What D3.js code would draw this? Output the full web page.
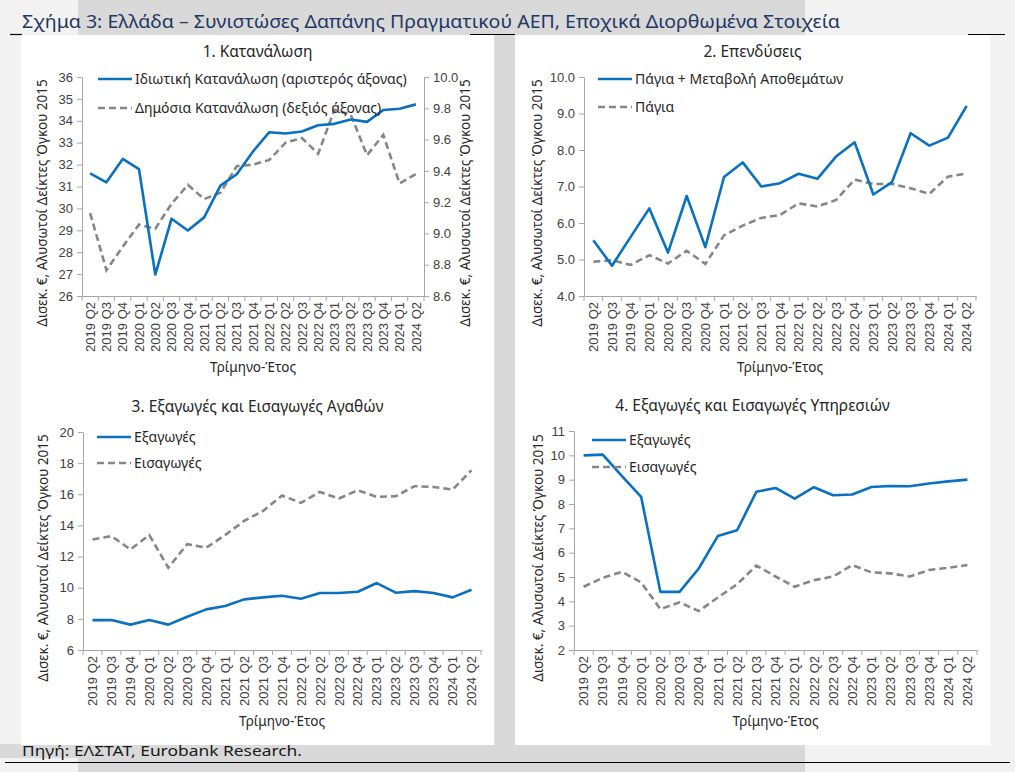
<!DOCTYPE html>
<html>
<head>
<meta charset="utf-8">
<script src="https://cdn.jsdelivr.net/npm/d3@7"></script>
<style>
  body { margin: 0; background: #f2f2f2; }
  svg { display: block; font-family: "Noto Sans", "DejaVu Sans", sans-serif; }
  .tick text { fill: #404040; font-size: 13px; }
  .domain, .tick line { stroke: #a6a6a6; }
</style>
<title>Σχήμα 3</title>
</head>
<body>
<svg id="chart" width="1015" height="772"></svg>
<script>
// ---- data ----
var quarters = ["2019 Q2","2019 Q3","2019 Q4","2020 Q1","2020 Q2","2020 Q3","2020 Q4",
                "2021 Q1","2021 Q2","2021 Q3","2021 Q4","2022 Q1","2022 Q2","2022 Q3",
                "2022 Q4","2023 Q1","2023 Q2","2023 Q3","2023 Q4","2024 Q1","2024 Q2"];

var privateCons = [31.60,31.19,32.26,31.79,26.98,29.53,28.99,29.59,31.04,31.56,32.60,
                   33.48,33.42,33.51,33.80,33.86,34.06,33.95,34.49,34.55,34.75];
var publicCons  = [9.13,8.765,8.915,9.057,9.03,9.19,9.31,9.22,9.26,9.43,9.44,
                   9.47,9.58,9.61,9.51,9.79,9.76,9.50,9.63,9.32,9.38];

var invTotal = [5.53,4.83,5.62,6.40,5.19,6.74,5.34,7.26,7.66,7.00,7.09,
                7.35,7.21,7.82,8.21,6.78,7.12,8.46,8.12,8.34,9.21];
var invFixed = [4.94,4.98,4.85,5.12,4.89,5.24,4.88,5.66,5.93,6.14,6.22,
                6.54,6.45,6.63,7.19,7.07,7.07,6.95,6.80,7.27,7.36];

var goodsExp = [7.92,7.92,7.63,7.92,7.63,8.14,8.61,8.82,9.25,9.38,9.48,
                9.29,9.66,9.66,9.74,10.30,9.68,9.78,9.66,9.38,9.87];
var goodsImp = [13.10,13.31,12.46,13.38,11.28,12.80,12.57,13.38,14.29,14.93,15.92,
                15.45,16.15,15.73,16.26,15.83,15.88,16.52,16.47,16.30,17.54];

var servExp = [10.00,10.03,9.15,8.29,4.39,4.39,5.35,6.69,6.92,8.50,8.66,
               8.22,8.69,8.36,8.39,8.70,8.74,8.73,8.84,8.93,9.00];
var servImp = [4.60,4.97,5.21,4.78,3.68,3.96,3.60,4.16,4.70,5.47,5.02,
               4.60,4.87,5.02,5.49,5.19,5.15,5.02,5.29,5.38,5.49];

var consTicksL = [26,27,28,29,30,31,32,33,34,35,36];
var consTicksR = [8.6,8.8,9.0,9.2,9.4,9.6,9.8,10.0];
var invTicks   = [4,5,6,7,8,9,10];
var goodsTicks = [6,8,10,12,14,16,18,20];
var servTicks  = [2,3,4,5,6,7,8,9,10,11];

var chartTitle = "Σχήμα 3: Ελλάδα – Συνιστώσες Δαπάνης Πραγματικού ΑΕΠ, Εποχικά Διορθωμένα Στοιχεία";
var sourceText = "Πηγή: ΕΛΣΤΑΤ, Eurobank Research.";
var yTitle = "Δισεκ. €, Αλυσωτοί Δείκτες Όγκου 2015";
var xTitle = "Τρίμηνο-Έτος";

var blue = "#0a70c0", grey = "#868686";

var svg = d3.select("#chart");

// ---- page background ----
svg.append("rect").attr("x", 78).attr("y", 0).attr("width", 727).attr("height", 772).attr("fill", "#d9d9d9");
svg.append("rect").attr("x", 0).attr("y", 744).attr("width", 805).attr("height", 14).attr("fill", "#d9d9d9");
[[10, 22], [470, 515], [968, 1005]].forEach(function (s) {
    svg.append("line").attr("x1", s[0]).attr("x2", s[1]).attr("y1", 34.5).attr("y2", 34.5)
        .attr("stroke", "#000").attr("stroke-width", 1.2);
});
svg.append("line").attr("x1", 5).attr("x2", 1010).attr("y1", 762.5).attr("y2", 762.5)
    .attr("stroke", "#000").attr("stroke-width", 1.2);

svg.append("rect").attr("x", 21).attr("y", 35).attr("width", 473).attr("height", 710).attr("fill", "#fff");
svg.append("rect").attr("x", 515).attr("y", 35).attr("width", 475).attr("height", 710).attr("fill", "#fff");

svg.append("text").attr("x", 22).attr("y", 28).text(chartTitle)
    .attr("font-size", 18.5).attr("fill", "#1f3763")
    .attr("textLength", 818).attr("lengthAdjust", "spacingAndGlyphs");

svg.append("text").attr("x", 22).attr("y", 756).text(sourceText)
    .attr("font-family", "'Liberation Sans Narrow', 'Noto Sans', sans-serif")
    .attr("font-size", 14.5).attr("fill", "#1a1a1a")
    .attr("textLength", 280).attr("lengthAdjust", "spacingAndGlyphs");

// ---- one panel ----
function panel(o) {
    var g = svg.append("g");
    var x = d3.scaleBand().domain(quarters).range([o.left, o.right]);
    var y = d3.scaleLinear().domain(d3.extent(o.ticks)).range([o.bottom, o.top]);
    var cx = function (d, i) { return x(quarters[i]) + x.bandwidth() / 2; };

    g.append("text").attr("x", o.cx).attr("y", o.titleY).attr("text-anchor", "middle")
        .attr("font-size", 15.5).attr("fill", "#262626").text(o.title);

    var ya = g.append("g").attr("transform", "translate(" + o.left + ",0)")
        .call(d3.axisLeft(y).tickValues(o.ticks).tickSize(5).tickSizeOuter(0)
            .tickPadding(4).tickFormat(d3.format(o.fmt)));
    ya.select(".domain").attr("stroke", "#a6a6a6");

    var xa = g.append("g").attr("transform", "translate(0," + o.bottom + ")")
        .call(d3.axisBottom(x).tickSize(0).tickSizeOuter(0));
    xa.selectAll(".tick text")
        .attr("transform", "rotate(-90)").attr("text-anchor", "end")
        .attr("x", -6).attr("y", 0).attr("dy", "0.36em");
    g.selectAll(null).data(quarters.concat(["end"])).join("line")
        .attr("x1", function (d) { return d === "end" ? o.right : x(d); })
        .attr("x2", function (d) { return d === "end" ? o.right : x(d); })
        .attr("y1", o.bottom).attr("y2", o.bottom + 5)
        .attr("stroke", "#a6a6a6");

    var y2 = null;
    if (o.ticksR) {
        y2 = d3.scaleLinear().domain(d3.extent(o.ticksR)).range([o.bottom, o.top]);
        g.append("g").attr("transform", "translate(" + o.right + ",0)")
            .call(d3.axisRight(y2).tickValues(o.ticksR).tickSize(5).tickSizeOuter(0)
                .tickPadding(4).tickFormat(d3.format(o.fmtR)));
        g.append("text").attr("transform", "translate(" + o.yTitleRX + "," + o.yTitleY + ") rotate(-90)")
            .attr("text-anchor", "middle").attr("font-size", 13.5).attr("fill", "#262626").text(yTitle);
    }

    g.append("text").attr("transform", "translate(" + o.yTitleX + "," + o.yTitleY + ") rotate(-90)")
        .attr("text-anchor", "middle").attr("font-size", 13.5).attr("fill", "#262626").text(yTitle);
    g.append("text").attr("x", (o.left + o.right) / 2).attr("y", o.bottom + 76)
        .attr("text-anchor", "middle").attr("font-size", 13.5).attr("fill", "#262626").text(xTitle);

    var yDash = y2 || y;
    var lineSolid = d3.line().x(cx).y(function (d) { return y(d); });
    var lineDash = d3.line().x(cx).y(function (d) { return yDash(d); });

    g.append("path").datum(o.dashed).attr("d", lineDash).attr("fill", "none")
        .attr("stroke", grey).attr("stroke-width", 2.6).attr("stroke-dasharray", "7,4");
    g.append("path").datum(o.solid).attr("d", lineSolid).attr("fill", "none")
        .attr("stroke", blue).attr("stroke-width", 2.6).attr("stroke-linejoin", "round");

    var lg = [[o.solidName, blue, null], [o.dashedName, grey, "7,4"]];
    lg.forEach(function (l, i) {
        var ly = o.legY[i];
        g.append("line").attr("x1", o.legX).attr("x2", o.legX + 34).attr("y1", ly).attr("y2", ly)
            .attr("stroke", l[1]).attr("stroke-width", 2.6).attr("stroke-dasharray", l[2]);
        g.append("text").attr("x", o.legX + 37).attr("y", ly).attr("dy", "0.35em")
            .attr("font-size", 14).attr("fill", "#262626").text(l[0]);
    });
}

panel({ title: "1. Κατανάλωση", cx: 257.5, titleY: 57,
        left: 82, right: 424, top: 77, bottom: 296,
        ticks: consTicksL, fmt: "d", ticksR: consTicksR, fmtR: ".1f",
        yTitleX: 47, yTitleRX: 470, yTitleY: 203,
        solid: privateCons, dashed: publicCons,
        solidName: "Ιδιωτική Κατανάλωση (αριστερός άξονας)",
        dashedName: "Δημόσια Κατανάλωση (δεξιός άξονας)",
        legX: 98, legY: [79, 108] });

panel({ title: "2. Επενδύσεις", cx: 752.5, titleY: 57,
        left: 584, right: 976, top: 77, bottom: 296,
        ticks: invTicks, fmt: ".1f",
        yTitleX: 542, yTitleY: 203,
        solid: invTotal, dashed: invFixed,
        solidName: "Πάγια + Μεταβολή Αποθεμάτων", dashedName: "Πάγια",
        legX: 598, legY: [79, 107] });

panel({ title: "3. Εξαγωγές και Εισαγωγές Αγαθών", cx: 257.5, titleY: 412,
        left: 83, right: 481, top: 432, bottom: 650,
        ticks: goodsTicks, fmt: "d",
        yTitleX: 48, yTitleY: 558,
        solid: goodsExp, dashed: goodsImp,
        solidName: "Εξαγωγές", dashedName: "Εισαγωγές",
        legX: 97, legY: [437, 463] });

panel({ title: "4. Εξαγωγές και Εισαγωγές Υπηρεσιών", cx: 752.5, titleY: 411,
        left: 574, right: 977, top: 431, bottom: 650,
        ticks: servTicks, fmt: "d",
        yTitleX: 543, yTitleY: 558,
        solid: servExp, dashed: servImp,
        solidName: "Εξαγωγές", dashedName: "Εισαγωγές",
        legX: 592, legY: [440, 467] });
</script>
</body>
</html>
